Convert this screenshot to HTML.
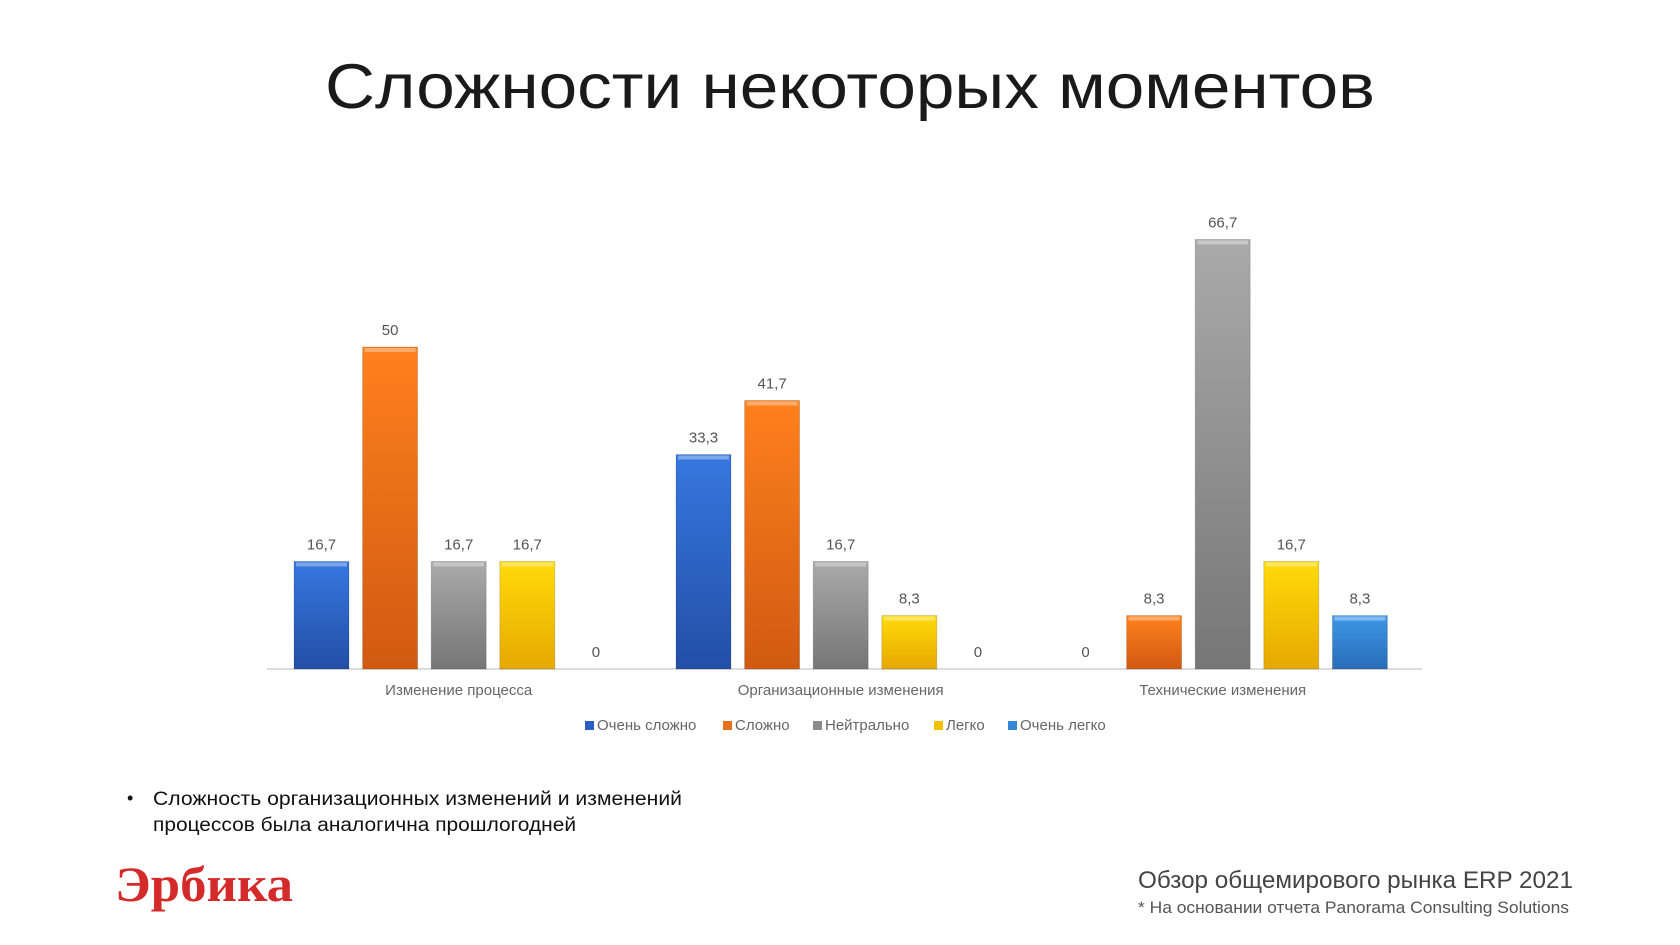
<!DOCTYPE html>
<html><head><meta charset="utf-8"><style>
html,body{margin:0;padding:0;background:#fff;}
svg{display:block;font-family:"Liberation Sans",sans-serif;}
</style></head><body>
<svg id="chart" width="1680" height="945" viewBox="0 0 1680 945" xmlns="http://www.w3.org/2000/svg">
<defs>
<linearGradient id="g0" x1="0" y1="0" x2="0" y2="1"><stop offset="0" stop-color="#3677e0"/><stop offset="1" stop-color="#234fa6"/></linearGradient>
<linearGradient id="g1" x1="0" y1="0" x2="0" y2="1"><stop offset="0" stop-color="#ff801c"/><stop offset="1" stop-color="#d05a12"/></linearGradient>
<linearGradient id="g2" x1="0" y1="0" x2="0" y2="1"><stop offset="0" stop-color="#aaaaaa"/><stop offset="1" stop-color="#767676"/></linearGradient>
<linearGradient id="g3" x1="0" y1="0" x2="0" y2="1"><stop offset="0" stop-color="#ffdb0a"/><stop offset="1" stop-color="#e6a800"/></linearGradient>
<linearGradient id="g4" x1="0" y1="0" x2="0" y2="1"><stop offset="0" stop-color="#3d98e6"/><stop offset="1" stop-color="#2a6cb8"/></linearGradient>
</defs>
<text x="850" y="108" text-anchor="middle" font-size="63" fill="#1a1a1a" textLength="1050" lengthAdjust="spacingAndGlyphs">Сложности некоторых моментов</text>
<line x1="267" y1="669" x2="1422" y2="669" stroke="#d0d0d0" stroke-width="1.5"/>
<g id="bars"></g>
<g id="legend"></g>
<text x="127" y="804" font-size="18" fill="#111">•</text>
<text x="153" y="805" font-size="19" fill="#111" textLength="529" lengthAdjust="spacingAndGlyphs">Сложность организационных изменений и изменений</text>
<text x="153" y="831" font-size="19" fill="#111" textLength="423" lengthAdjust="spacingAndGlyphs">процессов была аналогична прошлогодней</text>
<text x="115" y="901" font-size="50" font-weight="bold" fill="#d42a2a" font-family="Liberation Serif, serif" textLength="178" lengthAdjust="spacingAndGlyphs">Эрбика</text>
<text x="1138" y="888" font-size="24" fill="#444" textLength="435" lengthAdjust="spacingAndGlyphs">Обзор общемирового рынка ERP 2021</text>
<text x="1138" y="913" font-size="17" fill="#555" textLength="431" lengthAdjust="spacingAndGlyphs">* На основании отчета Panorama Consulting Solutions</text>
</svg>
<script>
const categories = ["Изменение процесса", "Организационные изменения", "Технические изменения"];
const seriesNames = ["Очень сложно", "Сложно", "Нейтрально", "Легко", "Очень легко"];
const veryHard = [16.7, 33.3, 0];
const hard = [50, 41.7, 8.3];
const neutral = [16.7, 16.7, 66.7];
const easy = [16.7, 8.3, 16.7];
const veryEasy = [0, 0, 8.3];
const valueLabels = [["16,7","33,3","0"],["50","41,7","8,3"],["16,7","16,7","66,7"],["16,7","8,3","16,7"],["0","0","8,3"]];
const series = [veryHard, hard, neutral, easy, veryEasy];
const colors = ["url(#g0)","url(#g1)","url(#g2)","url(#g3)","url(#g4)"];
const legendColors = ["#2a5fc4","#e8701a","#8c8c8c","#f2c200","#3388d8"];
const NS = "http://www.w3.org/2000/svg";
const baseY = 669, pxPerUnit = 6.44;
const groupStart = 294, groupStep = 382, barStep = 68.6, barW = 55;
function yScale(v){ return baseY - v * pxPerUnit; }
function xScale(ci, si){ return groupStart + ci * groupStep + si * barStep; }
const bars = document.getElementById('bars');
series.forEach((vals, si) => {
  vals.forEach((v, ci) => {
    const x = xScale(ci, si), y = yScale(v);
    if (v > 0) {
      const r = document.createElementNS(NS, 'rect');
      r.setAttribute('x', x); r.setAttribute('y', y);
      r.setAttribute('width', barW); r.setAttribute('height', baseY - y);
      r.setAttribute('fill', colors[si]);
      r.setAttribute('stroke', 'rgba(0,0,0,0.15)');
      
      
      bars.appendChild(r);
      const hl = document.createElementNS(NS, 'rect');
      hl.setAttribute('x', x + 2); hl.setAttribute('y', y + 1);
      hl.setAttribute('width', barW - 4); hl.setAttribute('height', 4);
      hl.setAttribute('fill', 'rgba(255,255,255,0.35)');
      
      
      bars.appendChild(hl);
    }
    const t = document.createElementNS(NS, 'text');
    t.setAttribute('x', x + barW / 2); t.setAttribute('y', (v > 0 ? y : baseY) - 12);
    t.setAttribute('text-anchor', 'middle'); t.setAttribute('font-size', '15'); t.setAttribute('fill', '#555');
    t.textContent = valueLabels[si][ci];
    
    
    bars.appendChild(t);
  });
});
categories.forEach((c, ci) => {
  const t = document.createElementNS(NS, 'text');
  t.setAttribute('x', xScale(ci, 2) + barW / 2); t.setAttribute('y', 695);
  t.setAttribute('text-anchor', 'middle'); t.setAttribute('font-size', '15'); t.setAttribute('fill', '#666');
  t.textContent = c;
  
  
  bars.appendChild(t);
});
const legendX = [585, 723, 813, 934, 1008];
const legend = document.getElementById('legend');
seriesNames.forEach((n, i) => {
  const g = document.createElementNS(NS, 'g');
  
  
  const r = document.createElementNS(NS, 'rect');
  r.setAttribute('x', legendX[i]); r.setAttribute('y', 721); r.setAttribute('width', 9); r.setAttribute('height', 9);
  r.setAttribute('fill', legendColors[i]);
  
  
  g.appendChild(r);
  const t = document.createElementNS(NS, 'text');
  t.setAttribute('x', legendX[i] + 12); t.setAttribute('y', 730);
  t.setAttribute('font-size', '15'); t.setAttribute('fill', '#666');
  t.textContent = n;
  
  
  g.appendChild(t);
  legend.appendChild(g);
});
</script>
</body></html>
